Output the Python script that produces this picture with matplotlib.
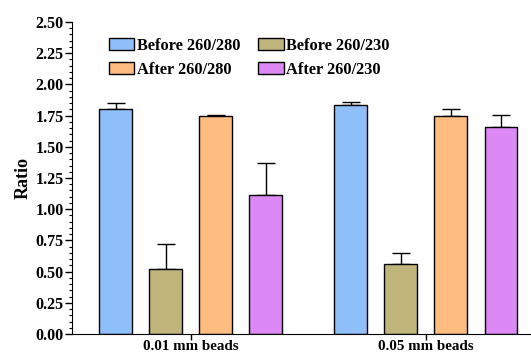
import numpy as np
import matplotlib.pyplot as plt
from matplotlib.ticker import MultipleLocator

plt.rcParams['font.family'] = ['Liberation Serif', 'DejaVu Serif']
plt.rcParams['font.weight'] = 'bold'

groups = ["0.01 mm beads", "0.05 mm beads"]
series = ["Before 260/280", "After 260/280", "Before 260/230", "After 260/230"]
means = {
    "Before 260/280": [1.80, 1.835],
    "Before 260/230": [0.52, 0.563],
    "After 260/280": [1.75, 1.747],
    "After 260/230": [1.11, 1.66],
}
errs = {
    "Before 260/280": [0.047, 0.025],
    "Before 260/230": [0.20, 0.087],
    "After 260/280": [0.008, 0.053],
    "After 260/230": [0.26, 0.097],
}
colors = {
    "Before 260/280": "#8fbff9",
    "Before 260/230": "#bfb57a",
    "After 260/280": "#fdbd80",
    "After 260/230": "#dc88f5",
}
bar_order = ["Before 260/280", "Before 260/230", "After 260/280", "After 260/230"]

fig = plt.figure(figsize=(5.31, 3.54), dpi=100)
ax = fig.add_axes([72/531, 20/354, 1 - 72/531, 312/354])

x = np.arange(len(groups))
step = 0.2128
width = 0.14
bars = {}
for i, name in enumerate(bar_order):
    pos = x + (i - 1.5) * step
    bars[name] = ax.bar(pos, means[name], width, color=colors[name],
                        edgecolor='black', linewidth=1.0, label=name, zorder=2)
    ax.errorbar(pos, means[name], yerr=[np.zeros(len(groups)), errs[name]],
                fmt='none', ecolor='black', elinewidth=1.0, capsize=6.5,
                capthick=1.0, zorder=1)

ax.set_xlim(-0.506, 1.447)
ax.set_ylim(0, 2.5)
ax.set_xticks(x)
ax.set_xticklabels(groups, fontsize=10.8, fontweight='bold')
ax.yaxis.set_major_locator(MultipleLocator(0.25))
ax.yaxis.set_minor_locator(MultipleLocator(0.05))
ax.yaxis.set_major_formatter(plt.FormatStrFormatter('%.2f'))
for lbl in ax.get_yticklabels():
    lbl.set_fontweight('bold')
ax.tick_params(axis='y', labelsize=11.5, length=5, width=1, pad=1)
ax.tick_params(axis='y', which='minor', length=2.5, width=0.8)
ax.tick_params(axis='x', length=4, width=1, pad=0)
ax.spines['top'].set_visible(False)
ax.spines['right'].set_visible(False)
ax.set_ylabel("Ratio", fontsize=13, fontweight='bold', labelpad=3)

ax.legend([bars[s] for s in series], series, ncol=2, frameon=False,
          loc='upper left', bbox_to_anchor=(0.055, 0.985),
          prop={'size': 11.8, 'weight': 'bold'}, handlelength=1.55,
          handleheight=0.75, handletextpad=0.15, columnspacing=1.1,
          labelspacing=0.45, borderpad=0.2)

fig.savefig("out.png", dpi=100)
